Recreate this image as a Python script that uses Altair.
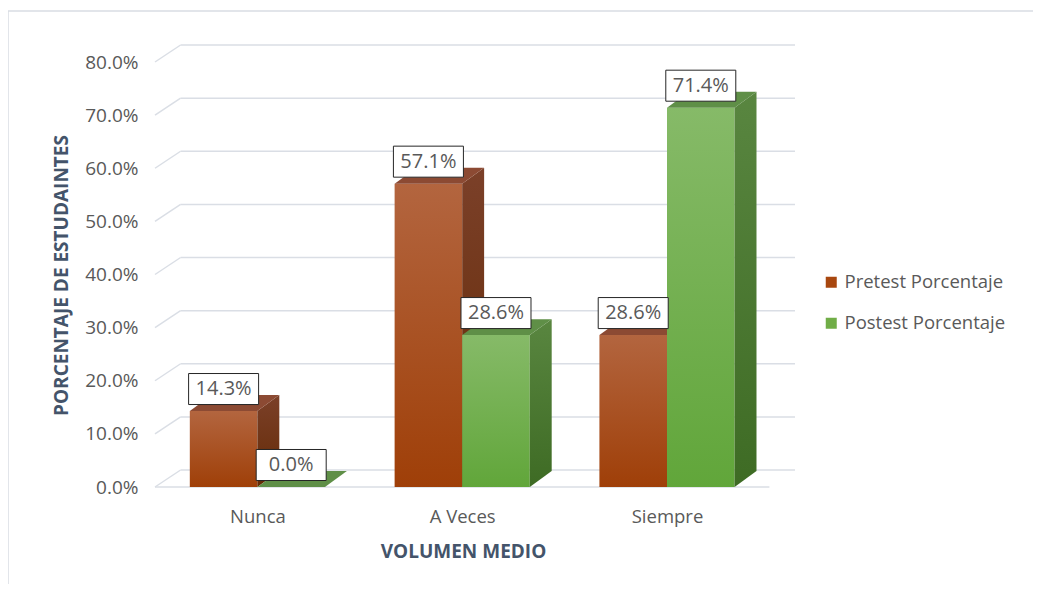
import altair as alt
import pandas as pd

# ---- data ----
categories = ["Nunca", "A Veces", "Siempre"]
series = ["Pretest Porcentaje", "Postest Porcentaje"]
pretest = [14.3, 57.1, 28.6]
postest = [0.0, 28.6, 71.4]
y_ticks = [0, 10, 20, 30, 40, 50, 60, 70, 80]

# ---- geometry (data units) ----
BAR_W = 0.33      # bar width in category units
DX, DY = 0.107, 3.0   # bar depth offset
GDX, GDY = 0.125, 3.2  # wall depth offset
XMAX = 3.125
YMAX = 80 + GDY

values = {series[0]: pretest, series[1]: postest}

front_rows, side_rows, top_rows, lab_rows = [], [], [], []
for si, s in enumerate(series):
    for i, cat in enumerate(categories):
        v = values[s][i]
        xl = i + 0.5 - BAR_W if si == 0 else i + 0.5
        xr = xl + BAR_W
        bid = f"{s}-{cat}"
        front_rows.append(dict(series=s, cat=cat, bid=bid, xl=xl, xr=xr, v=v))
        side_rows += [dict(series=s, bid=bid, x=xr, y=0, y2=v),
                      dict(series=s, bid=bid, x=xr + DX, y=DY, y2=v + DY)]
        top_rows += [dict(series=s, bid=bid, x=xl, y=v, y2=v),
                     dict(series=s, bid=bid, x=xl + DX, y=v, y2=v + DY),
                     dict(series=s, bid=bid, x=xr, y=v, y2=v + DY),
                     dict(series=s, bid=bid, x=xr + DX, y=v + DY, y2=v + DY)]
        lab_rows.append(dict(series=s, xc=(xl + xr) / 2, v=v, label=f"{v:.1f}%"))

front = pd.DataFrame(front_rows)
side = pd.DataFrame(side_rows)
top = pd.DataFrame(top_rows)
labs = pd.DataFrame(lab_rows)

grid = pd.DataFrame([dict(x=GDX, x2=3 + GDX, y=t + GDY) for t in y_ticks])
slant = pd.DataFrame([dict(x=0, x2=GDX, y=t, y2=t + GDY) for t in y_ticks])
floor = pd.DataFrame([dict(x=0, x2=3, y=0)])

xscale = alt.Scale(domain=[0, XMAX], nice=False, zero=False)
yscale = alt.Scale(domain=[0, YMAX], nice=False, zero=False)

label_expr = "[" + ",".join(f"'{c}'" for c in categories) + "][floor(datum.value)]"

FONT = "Open Sans"
x_axis = alt.Axis(values=[0.5, 1.5, 2.5], labelExpr=label_expr, title="VOLUMEN MEDIO",
                  ticks=False, domain=False, grid=False, labelFontSize=18.5,
                  labelColor="#595959", labelPadding=20, titleFontSize=19,
                  titleFontWeight="bold", titleColor="#44546a", titleX=308, titleY=64,
                  titleBaseline="middle", zindex=1)
y_axis = alt.Axis(values=y_ticks, labelExpr="format(datum.value/100, '.1%')",
                  title="PORCENTAJE DE ESTUDAINTES", ticks=False, domain=False, grid=False,
                  labelFontSize=19, labelColor="#595959", labelPadding=17,
                  titleFontSize=19, titleFontWeight="bold", titleColor="#44546a",
                  titleX=-94, titleY=230, titleBaseline="middle", titleAngle=270, zindex=1)

GRID_C = "#dadee5"

def grad(c_top, c_bot):
    return {"gradient": "linear", "x1": 0, "y1": 0, "x2": 0, "y2": 1,
            "stops": [{"offset": 0, "color": c_top}, {"offset": 1, "color": c_bot}]}

styles = {
    series[0]: dict(front=grad("#b3653f", "#9f3f08"), side=grad("#7b4029", "#642a04"),
                    top="#8c4a33"),
    series[1]: dict(front=grad("#86ba68", "#61a63a"), side=grad("#598640", "#3e6b24"),
                    top="#5f8f47"),
}

frame = alt.Chart(floor).mark_rect(filled=False, stroke="#d9dde3", strokeWidth=1.5).encode(
    x=alt.value(-147), x2=alt.value(1000), y=alt.value(-34), y2=alt.value(700))

base_x = alt.X("x:Q", scale=xscale, axis=x_axis)
base_y = alt.Y("y:Q", scale=yscale, axis=y_axis)

grid_l = alt.Chart(grid).mark_rule(color=GRID_C, strokeWidth=1.5).encode(
    x=base_x, x2="x2:Q", y=base_y)
slant_l = alt.Chart(slant).mark_rule(color=GRID_C, strokeWidth=1.5).encode(
    x=alt.X("x:Q", scale=xscale), x2="x2:Q", y=alt.Y("y:Q", scale=yscale), y2="y2:Q")
floor_l = alt.Chart(floor).mark_rule(color=GRID_C, strokeWidth=1.5).encode(
    x=alt.X("x:Q", scale=xscale), x2="x2:Q", y=alt.Y("y:Q", scale=yscale))

layers = [grid_l, frame, slant_l, floor_l]
for s in series:
    st = styles[s]
    layers.append(alt.Chart(front[front.series == s]).mark_rect(fill=st["front"]).encode(
        x=alt.X("xl:Q", scale=xscale), x2="xr:Q",
        y=alt.Y("v:Q", scale=yscale), y2=alt.datum(0)))
    layers.append(alt.Chart(side[side.series == s]).mark_area(fill=st["side"]).encode(
        x=alt.X("x:Q", scale=xscale), y=alt.Y("y:Q", scale=yscale), y2="y2:Q",
        detail="bid:N"))
    layers.append(alt.Chart(top[top.series == s]).mark_area(fill=st["top"]).encode(
        x=alt.X("x:Q", scale=xscale), y=alt.Y("y:Q", scale=yscale), y2="y2:Q",
        detail="bid:N"))

BOX = "M-1,-0.443L1,-0.443L1,0.443L-1,0.443Z"
box_l = alt.Chart(labs).mark_point(shape=BOX, size=4900, filled=True, fill="white",
                                   stroke="#262626", strokeWidth=1, opacity=1,
                                   yOffset=-22).encode(
    x=alt.X("xc:Q", scale=xscale), y=alt.Y("v:Q", scale=yscale))
text_l = alt.Chart(labs).mark_text(fontSize=20, color="#595959", yOffset=-22,
                                   baseline="middle", align="center").encode(
    x=alt.X("xc:Q", scale=xscale), y=alt.Y("v:Q", scale=yscale), text="label:N")

legend_l = alt.Chart(front).mark_square(opacity=0, size=1).encode(
    x=alt.X("xl:Q", scale=xscale), y=alt.Y("v:Q", scale=yscale),
    color=alt.Color("series:N",
                    scale=alt.Scale(domain=series, range=["#a8470f", "#70ad47"]),
                    legend=alt.Legend(title=None, orient="none", legendX=667, legendY=228,
                                      symbolType="square", symbolSize=121,
                                      symbolOpacity=1, symbolStrokeWidth=0,
                                      labelFontSize=18.5, labelColor="#595959",
                                      labelLimit=400,
                                      rowPadding=22, labelOffset=4)))

layers += [box_l, text_l, legend_l]

chart = alt.layer(*layers).properties(
    width=640, height=442,
    autosize=alt.AutoSizeParams(type="none"),
    padding={"left": 147, "top": 37, "right": 238, "bottom": 97},
    background="white",
).configure(font=FONT).configure_view(stroke=None)

chart.save("out.html", embed_options={"renderer": "svg", "actions": False})
